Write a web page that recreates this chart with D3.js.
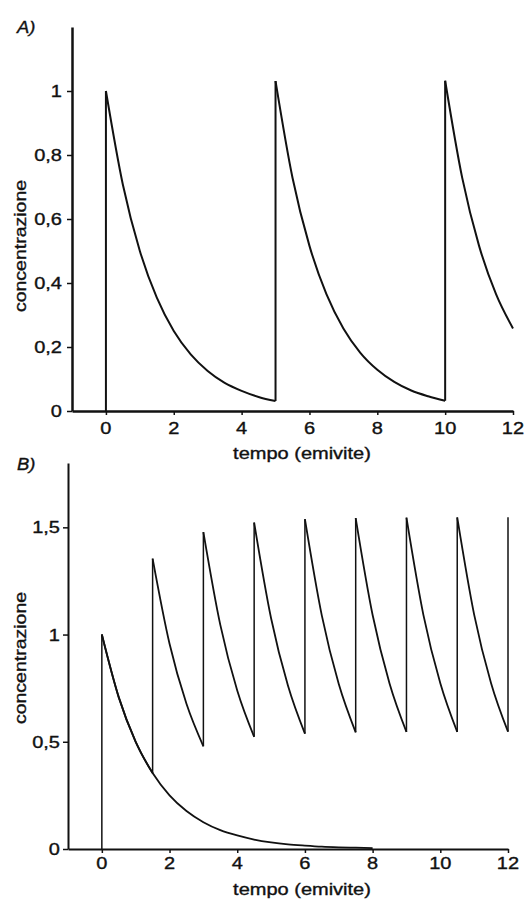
<!DOCTYPE html>
<html>
<head>
<meta charset="utf-8">
<script src="https://cdn.jsdelivr.net/npm/d3@7/dist/d3.min.js"></script>
<style>
  html, body { margin: 0; padding: 0; background: #fff; }
  svg { display: block; }
  text { font-family: "Liberation Sans", Arial, Helvetica, sans-serif; fill: #111; stroke: #111; stroke-width: 0.35px; }
</style>
</head>
<body>
<svg id="chart" width="524" height="899"></svg>
<script>
// ---------------- DATA ----------------
const xTicks = [0, 2, 4, 6, 8, 10, 12];
const xTickLabels = ["0", "2", "4", "6", "8", "10", "12"];
const yTicksA = [0, 0.2, 0.4, 0.6, 0.8, 1];
const yTickLabelsA = ["0", "0,2", "0,4", "0,6", "0,8", "1"];
const yTicksB = [0, 0.5, 1, 1.5];
const yTickLabelsB = ["0", "0,5", "1", "1,5"];
const xTitle = "tempo (emivite)";
const yTitle = "concentrazione";
const panelLabels = ["A)", "B)"];

const sampleStep = 0.5; // spacing (emivite) of the values read in each segment

// Panel A: dose every 5 half-lives
const doseTimesA = [0, 5, 10];
const segmentsA = [
  [1.000, 0.707, 0.500, 0.354, 0.250, 0.177, 0.125, 0.088, 0.063, 0.044, 0.031],
  [1.031, 0.729, 0.516, 0.365, 0.258, 0.182, 0.129, 0.091, 0.064, 0.046, 0.032],
  [1.032, 0.730, 0.516, 0.365, 0.258]
];

// Panel B: dose every 1.5 half-lives
const doseTimesB = [0, 1.5, 3, 4.5, 6, 7.5, 9, 10.5, 12];
const segmentsB = [
  [1.000, 0.707, 0.500, 0.354],
  [1.354, 0.957, 0.677, 0.479],
  [1.478, 1.045, 0.739, 0.523],
  [1.522, 1.076, 0.761, 0.538],
  [1.538, 1.088, 0.769, 0.544],
  [1.543, 1.091, 0.772, 0.546],
  [1.545, 1.092, 0.773, 0.546],
  [1.546, 1.093, 0.773, 0.547],
  [1.547]
];
// Panel B: single dose only
const singleDoseB = [1.000, 0.707, 0.500, 0.354, 0.250, 0.177, 0.125, 0.088, 0.063,
                     0.044, 0.031, 0.022, 0.016, 0.011, 0.008, 0.006, 0.004];

// ---------------- DRAW ----------------
const svg = d3.select("#chart");
const SX = 1.25; // wide lettering of the original

function drawPanel(cfg) {
  const g = svg.append("g");
  const x = d3.scaleLinear().domain([-1, 12]).range(cfg.xRange);
  const y = d3.scaleLinear().domain([0, cfg.yMax]).range(cfg.yRange);

  // x axis
  const xAx = g.append("g")
    .attr("transform", `translate(0,${cfg.yRange[0]})`)
    .call(d3.axisBottom(x).tickValues(xTicks).tickSize(4).tickSizeOuter(0).tickFormat(""));
  xAx.select(".domain").attr("stroke", "#111").attr("stroke-width", cfg.axisW);
  xAx.selectAll(".tick line").attr("stroke", "#111").attr("stroke-width", 1.5);

  // y axis
  const yAx = g.append("g")
    .attr("transform", `translate(${cfg.xRange[0]},0)`)
    .call(d3.axisLeft(y).tickValues(cfg.yTicks).tickSize(5).tickSizeOuter(0).tickFormat(""));
  yAx.select(".domain").attr("stroke", "#111").attr("stroke-width", cfg.axisW);
  yAx.selectAll(".tick line").attr("stroke", "#111").attr("stroke-width", 1.5);

  // tick labels
  xTicks.forEach((v, i) => {
    g.append("text")
      .attr("transform", `translate(${x(v)},${cfg.xLabelBase}) scale(${SX},1)`)
      .attr("text-anchor", "middle").attr("font-size", 16)
      .text(xTickLabels[i]);
  });
  cfg.yTicks.forEach((v, i) => {
    g.append("text")
      .attr("transform", `translate(${cfg.yLabelRight},${y(v) + 6}) scale(${SX},1)`)
      .attr("text-anchor", "end").attr("font-size", 16)
      .text(cfg.yTickLabels[i]);
  });

  // titles
  g.append("text")
    .attr("transform", `translate(${cfg.xTitlePos[0]},${cfg.xTitlePos[1]}) scale(${SX},1)`)
    .attr("text-anchor", "middle").attr("font-size", 16)
    .text(xTitle);
  g.append("text")
    .attr("transform", `translate(${cfg.yTitlePos[0]},${cfg.yTitlePos[1]}) rotate(-90) scale(1.22,1)`)
    .attr("text-anchor", "middle").attr("font-size", 16)
    .text(yTitle);
  g.append("text")
    .attr("transform", `translate(${cfg.panelPos[0]},${cfg.panelPos[1]}) scale(1.15,1)`)
    .attr("font-size", 16).attr("font-style", "italic")
    .text(cfg.panelLabel);

  const line = d3.line().x(d => x(d[0])).y(d => y(d[1])).curve(d3.curveMonotoneX);

  // extra curve (single dose)
  if (cfg.single) {
    const pts = cfg.single.map((v, i) => [i * sampleStep, v]);
    g.append("path").attr("d", line(pts))
      .attr("fill", "none").attr("stroke", "#111").attr("stroke-width", cfg.curveW);
  }

  // repeated-dose curve
  let prev = 0;
  cfg.doses.forEach((t0, k) => {
    const seg = cfg.segments[k];
    // vertical jump at administration
    g.append("line")
      .attr("x1", x(t0)).attr("x2", x(t0))
      .attr("y1", y(prev)).attr("y2", y(seg[0]))
      .attr("stroke", "#111").attr("stroke-width", cfg.vertW);
    if (seg.length > 1) {
      const pts = seg.map((v, i) => [t0 + i * sampleStep, v]);
      g.append("path").attr("d", line(pts))
        .attr("fill", "none").attr("stroke", "#111").attr("stroke-width", cfg.curveW)
        .attr("stroke-linejoin", "round");
    }
    prev = seg[seg.length - 1];
  });
}

drawPanel({
  xRange: [72, 513], yRange: [411, 27], yMax: 1.2,
  yTicks: yTicksA, yTickLabels: yTickLabelsA,
  xLabelBase: 434, yLabelRight: 62,
  xTitlePos: [302, 459], yTitlePos: [26, 246], panelPos: [17, 33],
  panelLabel: panelLabels[0],
  doses: doseTimesA, segments: segmentsA,
  axisW: 2.5, curveW: 2, vertW: 2
});

drawPanel({
  xRange: [68, 508], yRange: [849, 463], yMax: 1.8,
  yTicks: yTicksB, yTickLabels: yTickLabelsB,
  xLabelBase: 869, yLabelRight: 60,
  xTitlePos: [302, 895], yTitlePos: [26, 658], panelPos: [17, 470],
  panelLabel: panelLabels[1],
  doses: doseTimesB, segments: segmentsB, single: singleDoseB,
  axisW: 2, curveW: 1.8, vertW: 1.5
});
</script>
</body>
</html>
